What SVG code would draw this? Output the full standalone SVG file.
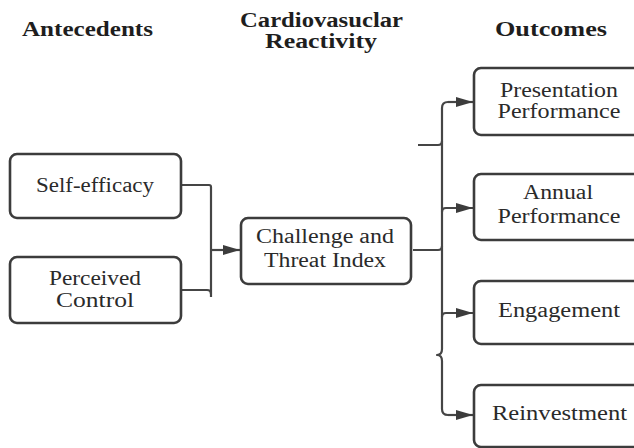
<svg xmlns="http://www.w3.org/2000/svg" width="634" height="448" viewBox="0 0 634 448">
<style>
.bg{fill:#ffffff}
.box{fill:#ffffff;stroke:#3c3c3c;stroke-width:2.6}
.con{fill:none;stroke:#454545;stroke-width:2.2;stroke-linejoin:round}
.hd{font-weight:bold;font-size:20px;fill:#1e1e1e;text-anchor:middle}
.tx{font-size:20px;fill:#2a2a2a;text-anchor:middle}
</style>
<defs>
<marker id="ah" viewBox="0 0 17 10" refX="17" refY="5" markerWidth="17" markerHeight="10" markerUnits="userSpaceOnUse" orient="auto">
<path d="M0,0 L17,5 L0,10 z" fill="#3c3c3c"/>
</marker>
</defs>
<rect class="bg" x="0" y="0" width="634" height="448"/>
<g id="headers" font-family="Liberation Serif, Times New Roman, serif">
<text class="hd" x="87.5" y="36" textLength="131" lengthAdjust="spacingAndGlyphs">Antecedents</text>
<text class="hd" x="321.5" y="27" textLength="163" lengthAdjust="spacingAndGlyphs">Cardiovasuclar</text>
<text class="hd" x="321" y="48" textLength="112" lengthAdjust="spacingAndGlyphs">Reactivity</text>
<text class="hd" x="551" y="36" textLength="112" lengthAdjust="spacingAndGlyphs">Outcomes</text>
</g>
<g id="connectors">
<path class="con" d="M181,185 H209 Q211,185 211,187 V297"/>
<path class="con" d="M181,290 H207 Q211,290 211,294"/>
<path class="con" d="M211,250 H240" marker-end="url(#ah)"/>
<path class="con" d="M413,250 H438 Q442,250 442,246"/>
<path class="con" d="M418,145 H438 Q442,145 442,141"/>
<path class="con" d="M462,102 H448 Q442,102 442,108 V349 Q442,355 437,355 Q442,355 442,361 V409 Q442,415 448,415 H462"/>
<path class="con" d="M448,102 H473" marker-end="url(#ah)"/>
<path class="con" d="M442,212 Q442,208 446,208 H473" marker-end="url(#ah)"/>
<path class="con" d="M442,317 Q442,313 446,313 H473" marker-end="url(#ah)"/>
<path class="con" d="M448,415 H473" marker-end="url(#ah)"/>
</g>
<g id="self-efficacy" font-family="Liberation Serif, Times New Roman, serif">
<rect class="box" x="10" y="154" width="171" height="64" rx="7"/>
<text class="tx" x="95" y="192" textLength="118" lengthAdjust="spacingAndGlyphs">Self-efficacy</text>
</g>
<g id="perceived-control" font-family="Liberation Serif, Times New Roman, serif">
<rect class="box" x="10" y="257" width="171" height="66" rx="7"/>
<text class="tx" x="95" y="285" textLength="92" lengthAdjust="spacingAndGlyphs">Perceived</text>
<text class="tx" x="95" y="307" textLength="78" lengthAdjust="spacingAndGlyphs">Control</text>
</g>
<g id="challenge-threat" font-family="Liberation Serif, Times New Roman, serif">
<rect class="box" x="241" y="218" width="170" height="66" rx="7"/>
<text class="tx" x="325" y="243" textLength="138" lengthAdjust="spacingAndGlyphs">Challenge and</text>
<text class="tx" x="325" y="267" textLength="122" lengthAdjust="spacingAndGlyphs">Threat Index</text>
</g>
<g id="presentation-performance" font-family="Liberation Serif, Times New Roman, serif">
<rect class="box" x="474" y="68" width="172" height="67" rx="7"/>
<text class="tx" x="559" y="97" textLength="118" lengthAdjust="spacingAndGlyphs">Presentation</text>
<text class="tx" x="559" y="118" textLength="123" lengthAdjust="spacingAndGlyphs">Performance</text>
</g>
<g id="annual-performance" font-family="Liberation Serif, Times New Roman, serif">
<rect class="box" x="474" y="174" width="172" height="66" rx="7"/>
<text class="tx" x="558" y="199" textLength="70" lengthAdjust="spacingAndGlyphs">Annual</text>
<text class="tx" x="559" y="223" textLength="123" lengthAdjust="spacingAndGlyphs">Performance</text>
</g>
<g id="engagement" font-family="Liberation Serif, Times New Roman, serif">
<rect class="box" x="474" y="281" width="172" height="63" rx="7"/>
<text class="tx" x="559" y="317" textLength="122" lengthAdjust="spacingAndGlyphs">Engagement</text>
</g>
<g id="reinvestment" font-family="Liberation Serif, Times New Roman, serif">
<rect class="box" x="474" y="385" width="172" height="62" rx="7"/>
<text class="tx" x="559.5" y="420" textLength="135" lengthAdjust="spacingAndGlyphs">Reinvestment</text>
</g>
</svg>
